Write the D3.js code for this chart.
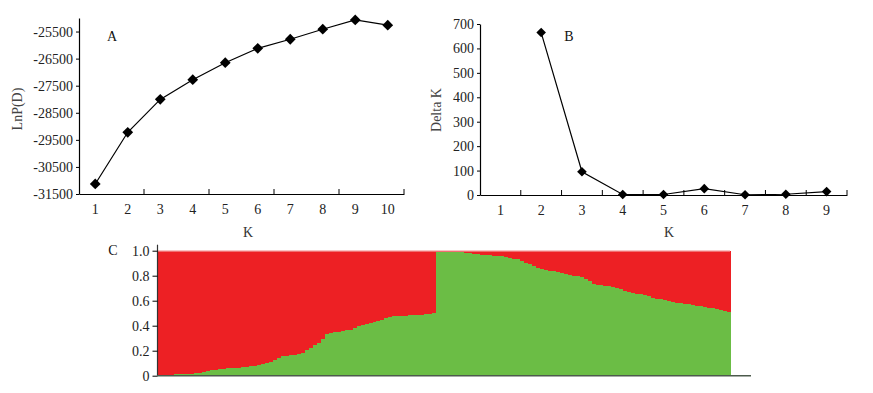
<!DOCTYPE html>
<html>
<head>
<meta charset="utf-8">
<script src="https://cdn.jsdelivr.net/npm/d3@7/dist/d3.min.js"></script>
<style>
  html, body { margin: 0; padding: 0; background: #fff; }
  svg { display: block; }
  text { font-family: "Liberation Serif", "Times New Roman", serif; }
</style>
</head>
<body>
<svg id="chart" width="873" height="393"></svg>
<script>
// ---------- Data ----------
const kA = [1, 2, 3, 4, 5, 6, 7, 8, 9, 10];
const lnPD = [-31130, -29220, -28005, -27280, -26650, -26120, -25785, -25415, -25070, -25265];
const lnTicks = [-31500, -30500, -29500, -28500, -27500, -26500, -25500];

const kB = [1, 2, 3, 4, 5, 6, 7, 8, 9];
const deltaKs = [2, 3, 4, 5, 6, 7, 8, 9];
const deltaK = [665, 95, 2, 2, 26, 1, 3, 14];
const dkTicks = [0, 100, 200, 300, 400, 500, 600, 700];

// Panel C: membership proportion of the green cluster per individual (red = 1 - green)
const greenLeft = [
  0.008, 0.008, 0.009, 0.009, 0.010, 0.010, 0.011, 0.012, 0.014, 0.018,
  0.022, 0.026, 0.035, 0.042, 0.045, 0.050, 0.055, 0.058, 0.061, 0.063,
  0.065, 0.068, 0.071, 0.074, 0.080, 0.085, 0.092, 0.100, 0.112, 0.125,
  0.140, 0.155, 0.158, 0.162, 0.168, 0.174, 0.185, 0.205, 0.225, 0.245,
  0.265, 0.292, 0.335, 0.342, 0.347, 0.352, 0.358, 0.364, 0.369, 0.378,
  0.395, 0.407, 0.415, 0.422, 0.430, 0.438, 0.447, 0.458, 0.470, 0.474,
  0.476, 0.478, 0.480, 0.482, 0.484, 0.486, 0.489, 0.492, 0.495, 0.499
];
const greenRight = [
  0.993, 0.992, 0.991, 0.990, 0.988, 0.987, 0.986, 0.982, 0.978, 0.974,
  0.970, 0.967, 0.965, 0.962, 0.960, 0.958, 0.954, 0.950, 0.944, 0.937,
  0.930, 0.920, 0.905, 0.892, 0.878, 0.864, 0.852, 0.845, 0.840, 0.835,
  0.828, 0.820, 0.812, 0.805, 0.800, 0.795, 0.788, 0.775, 0.755, 0.732,
  0.726, 0.722, 0.718, 0.714, 0.710, 0.703, 0.695, 0.680, 0.668, 0.663,
  0.657, 0.650, 0.643, 0.635, 0.625, 0.617, 0.612, 0.605, 0.598, 0.590,
  0.583, 0.579, 0.577, 0.572, 0.566, 0.561, 0.556, 0.552, 0.545, 0.538,
  0.531, 0.524, 0.517, 0.512
];
const qTicks = [0, 0.2, 0.4, 0.6, 0.8, 1.0];

// ---------- Styles ----------
const RED = "#ED2024", GREEN = "#6BBD45";
const FS = 14;

const svg = d3.select("#chart");

function styleAxis(g) {
  g.selectAll("path.domain").attr("stroke", "#000").attr("stroke-width", 1.2);
  g.selectAll(".tick line").attr("stroke", "#000").attr("stroke-width", 1);
  g.selectAll(".tick text").attr("font-size", FS).attr("fill", "#222")
    .attr("font-family", '"Liberation Serif", "Times New Roman", serif');
}

const diamond = (size) => d3.symbol().type(d3.symbolSquare).size(size);

// ---------- Panel A ----------
const xA = d3.scaleBand().domain(kA).range([79, 404]);
const yA = d3.scaleLinear().domain([-31500, -25000]).range([194, 18]);

svg.append("g").attr("transform", `translate(79,0)`)
  .call(d3.axisLeft(yA).tickValues(lnTicks).tickFormat(d => String(d)).tickSize(3).tickSizeOuter(0).tickPadding(3))
  .call(styleAxis);

const gxA = svg.append("g").attr("transform", `translate(0,194)`)
  .call(d3.axisBottom(xA).tickSize(0).tickPadding(10).tickSizeOuter(0))
  .call(styleAxis);
const tickKA = [2, 4, 6, 8, 10];
svg.append("g").selectAll("line").data(tickKA).join("line")
  .attr("x1", d => xA(d) + xA.bandwidth()).attr("x2", d => xA(d) + xA.bandwidth())
  .attr("y1", 194).attr("y2", 189).attr("stroke", "#000").attr("stroke-width", 1);

const ptsA = kA.map((k, i) => [xA(k) + xA.bandwidth() / 2, yA(lnPD[i])]);
svg.append("path").attr("d", d3.line()(ptsA)).attr("fill", "none").attr("stroke", "#000").attr("stroke-width", 1.2);
svg.append("g").selectAll("path").data(ptsA).join("path")
  .attr("d", diamond(58))
  .attr("transform", d => `translate(${d[0]},${d[1]}) rotate(45)`)
  .attr("fill", "#000");

svg.append("text").attr("x", 112).attr("y", 41).attr("text-anchor", "middle").attr("font-size", FS).attr("fill", "#111").text("A");
svg.append("text").attr("transform", "translate(22,109) rotate(-90)").attr("text-anchor", "middle")
  .attr("font-size", FS).attr("fill", "#444").text("LnP(D)");
svg.append("text").attr("x", 248).attr("y", 237).attr("text-anchor", "middle").attr("font-size", FS).attr("fill", "#333").text("K");

// ---------- Panel B ----------
const xB = d3.scaleBand().domain(kB).range([480, 847]);
const yB = d3.scaleLinear().domain([0, 700]).range([195, 24]);

svg.append("g").attr("transform", `translate(480,0)`)
  .call(d3.axisLeft(yB).tickValues(dkTicks).tickSize(3).tickSizeOuter(0).tickPadding(3))
  .call(styleAxis);
svg.append("g").attr("transform", `translate(0,195)`)
  .call(d3.axisBottom(xB).tickSize(0).tickPadding(10).tickSizeOuter(0))
  .call(styleAxis);
svg.append("g").selectAll("line").data(kB).join("line")
  .attr("x1", d => xB(d) + xB.bandwidth()).attr("x2", d => xB(d) + xB.bandwidth())
  .attr("y1", 195).attr("y2", 190).attr("stroke", "#000").attr("stroke-width", 1);

const ptsB = deltaKs.map((k, i) => [xB(k) + xB.bandwidth() / 2, yB(deltaK[i])]);
svg.append("path").attr("d", d3.line()(ptsB)).attr("fill", "none").attr("stroke", "#000").attr("stroke-width", 1.2);
svg.append("g").selectAll("path").data(ptsB).join("path")
  .attr("d", diamond(46))
  .attr("transform", d => `translate(${d[0]},${d[1]}) rotate(45)`)
  .attr("fill", "#000");

svg.append("text").attr("x", 569).attr("y", 41).attr("text-anchor", "middle").attr("font-size", FS).attr("fill", "#111").text("B");
svg.append("text").attr("transform", "translate(441,110) rotate(-90)").attr("text-anchor", "middle")
  .attr("font-size", FS).attr("fill", "#444").text("Delta K");
svg.append("text").attr("x", 669).attr("y", 237).attr("text-anchor", "middle").attr("font-size", FS).attr("fill", "#333").text("K");

// ---------- Panel C ----------
const green = greenLeft.concat(greenRight);
const ids = d3.range(green.length);
const xC = d3.scaleBand().domain(ids).range([158, 730]).padding(0);
const yC = d3.scaleLinear().domain([0, 1]).range([375.7, 250.7]);

const gC = svg.append("g").attr("shape-rendering", "crispEdges");
gC.selectAll("rect.red").data(ids).join("rect").attr("class", "red")
  .attr("x", i => xC(i)).attr("width", xC.bandwidth() + 0.6)
  .attr("y", yC(1)).attr("height", i => yC(green[i]) - yC(1))
  .attr("fill", RED);
gC.selectAll("rect.green").data(ids).join("rect").attr("class", "green")
  .attr("x", i => xC(i)).attr("width", xC.bandwidth() + 0.6)
  .attr("y", i => yC(green[i])).attr("height", i => yC(0) - yC(green[i]))
  .attr("fill", GREEN);
svg.append("line").attr("x1", 158).attr("x2", 730).attr("y1", yC(1) + 0.5).attr("y2", yC(1) + 0.5)
  .attr("stroke", "#F28A8A").attr("stroke-width", 1.2);

svg.append("g").attr("transform", `translate(157.5,0)`)
  .call(d3.axisLeft(yC).tickValues(qTicks).tickFormat(d => d === 0 ? "0" : d3.format(".1f")(d)).tickSize(5).tickSizeOuter(0).tickPadding(3))
  .call(styleAxis)
  .call(g => g.select("path.domain").attr("d", `M0,${yC(1) - 6}V${yC(0)}`).attr("stroke", "#333"));
svg.append("line").attr("x1", 157).attr("x2", 751).attr("y1", yC(0)).attr("y2", yC(0))
  .attr("stroke", "#4d5a4d").attr("stroke-width", 1.5);

svg.append("text").attr("x", 113).attr("y", 255).attr("text-anchor", "middle").attr("font-size", FS).attr("fill", "#111").text("C");
</script>
</body>
</html>
